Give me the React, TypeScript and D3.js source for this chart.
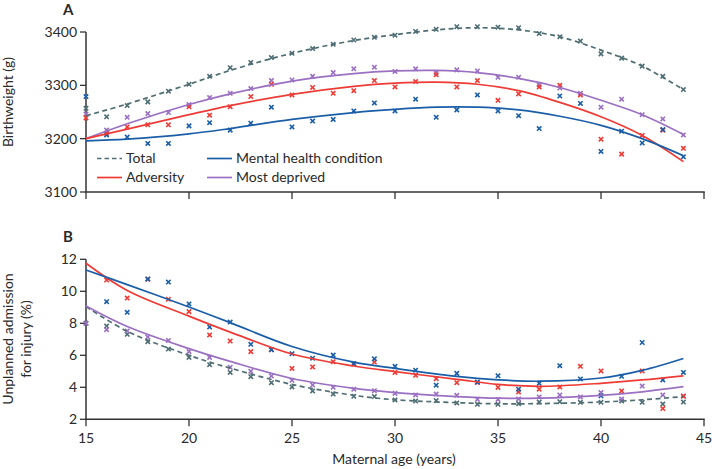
import React from "react";
import * as d3 from "d3";

// ---------- data ----------
const AGES = [15, 16, 17, 18, 19, 20, 21, 22, 23, 24, 25, 26, 27, 28, 29, 30, 31, 32, 33, 34, 35, 36, 37, 38, 39, 40, 41, 42, 43, 44];

// Panel A: birthweight (g), observed
const A_TOTAL = [3257, 3241, 3262, 3269, 3289, 3302, 3317, 3333, 3343, 3352, 3360, 3369, 3377, 3385, 3390, 3394, 3401, 3405, 3410, 3410, 3409, 3408, 3397, 3391, 3383, 3359, 3351, 3336, 3317, 3292];
const A_MENTAL = [3279, 3207, 3203, 3191, 3191, 3224, 3230, 3216, 3229, 3259, 3222, 3233, 3236, 3252, 3267, 3252, 3274, 3240, 3254, 3282, 3252, 3243, 3219, 3280, 3266, 3176, 3214, 3192, 3217, 3166];
const A_ADVERSITY = [3239, 3210, 3222, 3226, 3226, 3260, 3244, 3260, 3279, 3302, 3282, 3296, 3285, 3290, 3309, 3297, 3307, 3320, 3297, 3309, 3272, 3284, 3297, 3300, 3282, 3199, 3171, 3206, 3216, 3182];
const A_DEPRIVED = [3246, 3216, 3240, 3247, 3249, 3264, 3277, 3285, 3294, 3309, 3310, 3317, 3324, 3331, 3334, 3326, 3331, 3324, 3329, 3327, 3315, 3315, 3301, 3295, 3285, 3259, 3274, 3245, 3237, 3207];

// Panel A: fitted curves
const A_FIT_AGES = [15, 17, 20, 22, 25, 28, 30, 32, 34, 36, 38, 40, 42, 44];
const A_FIT_TOTAL = [3243, 3265, 3302, 3328, 3360, 3384, 3395, 3404, 3408, 3404, 3391, 3366, 3336, 3292];
const A_FIT_MENTAL = [3196, 3199, 3209, 3219, 3236, 3249, 3255, 3259, 3259, 3254, 3242, 3225, 3200, 3168];
const A_FIT_ADVERSITY = [3200, 3218, 3245, 3262, 3283, 3298, 3304, 3306, 3302, 3290, 3268, 3241, 3206, 3157];
const A_FIT_DEPRIVED = [3200, 3228, 3264, 3284, 3308, 3322, 3327, 3328, 3324, 3313, 3296, 3272, 3245, 3208];

// Panel B: unplanned admission for injury (%), observed
const B_TOTAL = [8.0, 7.83, 7.31, 6.85, 6.39, 5.87, 5.41, 4.93, 4.66, 4.29, 4.02, 3.77, 3.58, 3.44, 3.42, 3.21, 3.14, 3.17, 3.02, 2.94, 2.94, 2.98, 3.08, 3.1, 3.06, 3.06, 3.15, 3.06, 2.95, 3.08];
const B_MENTAL = [NaN, 9.35, 8.69, 10.77, 10.58, 9.21, 7.77, 8.08, 6.69, 6.35, 6.1, 5.82, 6.01, 5.48, 5.78, 5.31, 5.07, 4.13, 4.87, 4.33, 4.72, 3.88, 4.25, 5.35, 4.52, 3.47, 4.69, 6.8, 4.46, 4.93];
const B_ADVERSITY = [NaN, 10.7, 9.58, 10.75, 9.5, 8.73, 7.27, 6.89, 6.23, 6.35, 5.18, 5.27, 5.6, 5.45, 5.58, 4.92, 4.75, 4.54, 4.29, 4.3, 3.99, 3.71, 3.88, 4.02, 5.31, 5.02, 3.77, 5.02, 2.67, 3.44];
const B_DEPRIVED = [8.0, 7.6, 7.52, 7.14, 6.93, 6.23, 5.87, 5.25, 5.0, 4.71, 4.44, 4.14, 4.0, 3.88, 3.79, 3.62, 3.52, 3.58, 3.5, 3.25, 3.24, 3.27, 3.4, 3.52, 3.4, 3.67, 3.27, 4.08, 3.52, 3.46];

// Panel B: fitted curves
const B_FIT_AGES = [15, 17, 20, 22, 25, 28, 30, 33, 35, 37, 40, 42, 44];
const B_FIT_TOTAL = [9.05, 7.5, 6.0, 5.2, 4.18, 3.5, 3.22, 3.04, 2.97, 2.98, 3.08, 3.22, 3.42];
const B_FIT_MENTAL = [11.33, 10.42, 9.02, 8.04, 6.55, 5.57, 5.18, 4.68, 4.47, 4.38, 4.58, 5.06, 5.8];
const B_FIT_ADVERSITY = [11.75, 10.05, 8.45, 7.45, 6.08, 5.33, 4.98, 4.5, 4.18, 4.06, 4.25, 4.46, 4.72];
const B_FIT_DEPRIVED = [9.08, 7.8, 6.42, 5.62, 4.55, 3.93, 3.67, 3.42, 3.32, 3.32, 3.5, 3.72, 4.04];

const X_TICKS = [15, 20, 25, 30, 35, 40, 45];
const A_Y_TICKS = [3100, 3200, 3300, 3400];
const B_Y_TICKS = [2, 4, 6, 8, 10, 12];

// ---------- styles ----------
const COLORS: Record<string, string> = {
  Total: "#4f6e74",
  "Mental health condition": "#1b5ea8",
  Adversity: "#ee3b36",
  "Most deprived": "#9b70c2",
};
const FONT = "Lato, 'Open Sans', sans-serif";
const AXIS = "#333";
const TEXT = "#2a2a2a";

const W = 712;
const H = 469;

const x = d3.scaleLinear().domain([15, 45]).range([86, 704]);
const yA = d3.scaleLinear().domain([3100, 3400]).range([192, 32]);
const yB = d3.scaleLinear().domain([2, 12]).range([419.3, 259.3]);

type Panel = {
  y: d3.ScaleLinear<number, number>;
  obs: Record<string, number[]>;
  fitAges: number[];
  fit: Record<string, number[]>;
};

const PANEL_A: Panel = {
  y: yA,
  obs: { Total: A_TOTAL, "Mental health condition": A_MENTAL, Adversity: A_ADVERSITY, "Most deprived": A_DEPRIVED },
  fitAges: A_FIT_AGES,
  fit: { Total: A_FIT_TOTAL, "Mental health condition": A_FIT_MENTAL, Adversity: A_FIT_ADVERSITY, "Most deprived": A_FIT_DEPRIVED },
};
const PANEL_B: Panel = {
  y: yB,
  obs: { Total: B_TOTAL, "Mental health condition": B_MENTAL, Adversity: B_ADVERSITY, "Most deprived": B_DEPRIVED },
  fitAges: B_FIT_AGES,
  fit: { Total: B_FIT_TOTAL, "Mental health condition": B_FIT_MENTAL, Adversity: B_FIT_ADVERSITY, "Most deprived": B_FIT_DEPRIVED },
};

const DRAW_ORDER = ["Total", "Most deprived", "Adversity", "Mental health condition"];

function Cross({ cx, cy, color }: { cx: number; cy: number; color: string }) {
  const s = 2.2;
  return (
    <path
      d={`M${cx - s},${cy - s}L${cx + s},${cy + s}M${cx - s},${cy + s}L${cx + s},${cy - s}`}
      stroke={color}
      strokeWidth={1.6}
      fill="none"
    />
  );
}

function PanelMarks({ p }: { p: Panel }) {
  const line = (vals: number[]) =>
    d3
      .line<number>()
      .x((_, i) => x(p.fitAges[i]))
      .y((v) => p.y(v))
      .curve(d3.curveCatmullRom.alpha(0.5))(vals) || "";
  return (
    <g>
      {DRAW_ORDER.map((name) => (
        <g key={"pts" + name}>
          {AGES.map((a, i) => {
            const v = p.obs[name][i];
            if (!isFinite(v)) return null;
            return <Cross key={a} cx={x(a)} cy={p.y(v)} color={COLORS[name]} />;
          })}
        </g>
      ))}
      {DRAW_ORDER.map((name) => (
        <path
          key={"fit" + name}
          d={line(p.fit[name])}
          fill="none"
          stroke={COLORS[name]}
          strokeWidth={1.7}
          strokeDasharray={name === "Total" ? "5,3.5" : undefined}
        />
      ))}
    </g>
  );
}

function Axes({ y, ticks, showXLabels }: { y: d3.ScaleLinear<number, number>; ticks: number[]; showXLabels: boolean }) {
  const [y0, y1] = y.range();
  const x0 = x(15);
  const x1 = x(45);
  return (
    <g>
      <line x1={x0} x2={x0} y1={y1} y2={y0} stroke={AXIS} strokeWidth={1.5} />
      <line x1={x0 - 0.75} x2={x1 + 0.75} y1={y0} y2={y0} stroke={AXIS} strokeWidth={1.5} />
      {ticks.map((t) => (
        <g key={"yt" + t}>
          <line x1={x0 - 6} x2={x0} y1={y(t)} y2={y(t)} stroke={AXIS} strokeWidth={1.3} />
          <text x={x0 - 9} y={y(t)} dy="0.35em" textAnchor="end" fontSize={14} fill={TEXT} fontFamily={FONT}>
            {t}
          </text>
        </g>
      ))}
      {X_TICKS.map((t) => (
        <g key={"xt" + t}>
          <line x1={x(t)} x2={x(t)} y1={y0} y2={y0 + 7} stroke={AXIS} strokeWidth={1.3} />
          {showXLabels && (
            <text x={x(t)} y={y0 + 24} textAnchor="middle" fontSize={14} fill={TEXT} fontFamily={FONT}>
              {t}
            </text>
          )}
        </g>
      ))}
    </g>
  );
}

function Legend() {
  const rows = [
    { name: "Total", lx: 97, ly: 158.5 },
    { name: "Mental health condition", lx: 207, ly: 158.5 },
    { name: "Adversity", lx: 97, ly: 177.5 },
    { name: "Most deprived", lx: 207, ly: 177.5 },
  ];
  return (
    <g>
      {rows.map((r) => (
        <g key={r.name}>
          <line
            x1={r.lx}
            x2={r.lx + 25}
            y1={r.ly}
            y2={r.ly}
            stroke={COLORS[r.name]}
            strokeWidth={1.7}
            strokeDasharray={r.name === "Total" ? "4.5,3" : undefined}
          />
          <text x={r.lx + 29} y={r.ly} dy="0.35em" fontSize={14} fill={TEXT} fontFamily={FONT}>
            {r.name}
          </text>
        </g>
      ))}
    </g>
  );
}

export default function App() {
  return (
    <div style={{ position: "absolute", left: 0, top: 0, width: W, height: H, background: "#fff" }}>
      <svg width={W} height={H} viewBox={`0 0 ${W} ${H}`} style={{ display: "block" }}>
        <rect width={W} height={H} fill="#fff" />
        <text x={63} y={15} fontSize={15} fontWeight="bold" fill={TEXT} fontFamily={FONT}>A</text>
        <text x={63} y={242} fontSize={15} fontWeight="bold" fill={TEXT} fontFamily={FONT}>B</text>

        <text transform="translate(13,102) rotate(-90)" textAnchor="middle" fontSize={14} fill={TEXT} fontFamily={FONT}>
          Birthweight (g)
        </text>
        <text transform="translate(13,339) rotate(-90)" textAnchor="middle" fontSize={14} fill={TEXT} fontFamily={FONT}>
          Unplanned admission
        </text>
        <text transform="translate(31,339) rotate(-90)" textAnchor="middle" fontSize={14} fill={TEXT} fontFamily={FONT}>
          for injury (%)
        </text>
        <text x={394} y={464} textAnchor="middle" fontSize={14} fill={TEXT} fontFamily={FONT}>
          Maternal age (years)
        </text>

        <Axes y={yA} ticks={A_Y_TICKS} showXLabels={false} />
        <Axes y={yB} ticks={B_Y_TICKS} showXLabels={true} />

        <PanelMarks p={PANEL_A} />
        <PanelMarks p={PANEL_B} />
        <Legend />
      </svg>
    </div>
  );
}
